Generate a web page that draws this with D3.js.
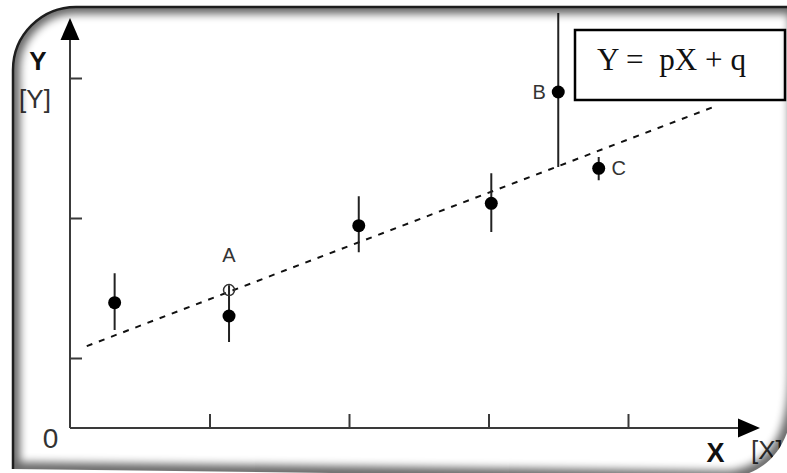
<!DOCTYPE html>
<html>
<head>
<meta charset="utf-8">
<script src="https://cdn.jsdelivr.net/npm/d3@7"></script>
<style>
  html, body { margin: 0; padding: 0; background: #fff; }
  svg { display: block; }
</style>
</head>
<body>
<div id="chart"></div>
<script>
// Measurements with their error bars, the predicted point A and the fitted line Y = pX + q
const xTicks = [1, 2, 3, 4];
const yTicks = [1, 3, 5];
const pointX = [0.32, 1.14, 2.07, 3.02, 3.50, 3.79];
const pointY = [1.79, 1.60, 2.89, 3.21, 4.80, 3.71];
const errLow = [1.40, 1.23, 2.51, 2.80, 3.73, 3.54];
const errHigh = [2.21, 2.04, 3.31, 3.64, 5.93, 3.87];
const pointNames = ["", "", "", "", "B", "C"];
const predX = [1.14];
const predY = [1.97];
const predNames = ["A"];
const fitX = [0.12, 4.63];
const fitY = [1.17, 4.60];
const equation = "Y =  pX + q";

const W = 787, H = 473;
const svg = d3.select("#chart").append("svg").attr("width", W).attr("height", H);

const x = d3.scaleLinear().domain([0, 4]).range([70, 628]);
const y = d3.scaleLinear().domain([0, 5]).range([428, 78]);
const axisColor = "#3a3a3a";

// frame outline: rounded top-left and bottom-right corners
const framePath = "M13,469 L13,70 A63,63 0 0 1 76,7 L796,7 L796,370 C796,420 786,470 730,478 Z";
const defs = svg.append("defs");
defs.append("clipPath").attr("id", "inside").append("path").attr("d", framePath);
defs.append("filter").attr("id", "soft")
  .attr("x", "-10%").attr("y", "-10%").attr("width", "120%").attr("height", "120%")
  .append("feGaussianBlur").attr("stdDeviation", 4);

const plot = svg.append("g").attr("clip-path", "url(#inside)");
plot.append("path").attr("d", framePath).attr("fill", "#fff");

// axes lines with arrowheads
plot.append("line").attr("x1", x(0)).attr("y1", y(0)).attr("x2", x(0)).attr("y2", 38)
  .attr("stroke", axisColor).attr("stroke-width", 2);
plot.append("path").attr("d", `M${x(0)},18 L${x(0) - 9.5},40 L${x(0) + 9.5},40 Z`).attr("fill", "#000");
plot.append("line").attr("x1", x(0)).attr("y1", y(0)).attr("x2", 740).attr("y2", y(0))
  .attr("stroke", axisColor).attr("stroke-width", 2);
plot.append("path").attr("d", `M760,${y(0)} L738,${y(0) - 9.5} L738,${y(0) + 9.5} Z`).attr("fill", "#000");

// tick marks
const xAxis = plot.append("g").attr("transform", `translate(0,${y(0)})`)
  .call(d3.axisTop(x).tickValues(xTicks).tickSize(14).tickFormat(""));
const yAxis = plot.append("g").attr("transform", `translate(${x(0)},0)`)
  .call(d3.axisRight(y).tickValues(yTicks).tickSize(12).tickFormat(""));
[xAxis, yAxis].forEach(g => {
  g.select(".domain").remove();
  g.selectAll(".tick line").attr("stroke", axisColor).attr("stroke-width", 2);
});

// fitted line
plot.append("line")
  .attr("x1", x(fitX[0])).attr("y1", y(fitY[0]))
  .attr("x2", x(fitX[1])).attr("y2", y(fitY[1]))
  .attr("stroke", "#111").attr("stroke-width", 2).attr("stroke-dasharray", "6,7");

// error bars and points
const idx = d3.range(pointX.length);
plot.selectAll("line.err").data(idx).join("line").attr("class", "err")
  .attr("x1", i => x(pointX[i])).attr("x2", i => x(pointX[i]))
  .attr("y1", i => y(errHigh[i])).attr("y2", i => y(errLow[i]))
  .attr("stroke", "#222").attr("stroke-width", 2);
plot.selectAll("circle.pt").data(idx).join("circle").attr("class", "pt")
  .attr("cx", i => x(pointX[i])).attr("cy", i => y(pointY[i])).attr("r", 6.5)
  .attr("fill", "#000");

// predicted point A
plot.selectAll("circle.pred").data(predX).join("circle").attr("class", "pred")
  .attr("cx", (d, i) => x(d)).attr("cy", (d, i) => y(predY[i])).attr("r", 5.5)
  .attr("fill", "none").attr("stroke", "#333").attr("stroke-width", 1.5);

const labelFont = "'Liberation Sans', Arial, sans-serif";
plot.selectAll("text.pred").data(predNames).join("text").attr("class", "pred")
  .attr("x", (d, i) => x(predX[i])).attr("y", (d, i) => y(predY[i]) - 28)
  .attr("text-anchor", "middle").attr("font-family", labelFont).attr("font-size", 20)
  .attr("fill", "#333").text(d => d);

plot.selectAll("text.pt").data(idx.filter(i => pointNames[i])).join("text").attr("class", "pt")
  .attr("x", i => pointNames[i] === "B" ? x(pointX[i]) - 19 : x(pointX[i]) + 20)
  .attr("y", i => y(pointY[i]) + 7)
  .attr("text-anchor", "middle").attr("font-family", labelFont).attr("font-size", 20)
  .attr("fill", "#333").text(i => pointNames[i]);

// axis titles and origin
plot.append("text").attr("x", 38).attr("y", 70).attr("text-anchor", "middle")
  .attr("font-family", labelFont).attr("font-weight", "bold").attr("font-size", 26)
  .attr("fill", "#111").text("Y");
plot.append("text").attr("x", 35).attr("y", 108).attr("text-anchor", "middle")
  .attr("font-family", labelFont).attr("font-size", 26).attr("fill", "#333").text("[Y]");
plot.append("text").attr("x", 50.5).attr("y", 448).attr("text-anchor", "middle")
  .attr("font-family", labelFont).attr("font-size", 28).attr("fill", "#333").text("0");
plot.append("text").attr("x", 715.5).attr("y", 462).attr("text-anchor", "middle")
  .attr("font-family", labelFont).attr("font-weight", "bold").attr("font-size", 27)
  .attr("fill", "#111").text("X");
plot.append("text").attr("x", 751).attr("y", 459)
  .attr("font-family", labelFont).attr("font-size", 26).attr("fill", "#333").text("[X]");

// equation box
plot.append("rect").attr("x", 575).attr("y", 30).attr("width", 210).attr("height", 70)
  .attr("fill", "#fff").attr("stroke", "#000").attr("stroke-width", 2.5);
plot.append("text").attr("x", 597).attr("y", 70)
  .attr("font-family", "'Liberation Serif', 'Times New Roman', serif").attr("font-size", 32)
  .attr("textLength", 149).attr("lengthAdjust", "spacingAndGlyphs")
  .attr("fill", "#111").attr("xml:space", "preserve").style("white-space", "pre")
  .text(equation);

// inner shading along the frame edge
svg.append("g").attr("clip-path", "url(#inside)")
  .append("path").attr("d", framePath).attr("fill", "none")
  .attr("stroke", "#000").attr("stroke-width", 14).attr("opacity", 0.6)
  .attr("filter", "url(#soft)");
svg.append("path").attr("d", "M13,469 L13,70 A63,63 0 0 1 76,7 L796,7")
  .attr("fill", "none").attr("stroke", "#1e1e1e").attr("stroke-width", 2.5);
</script>
</body>
</html>
